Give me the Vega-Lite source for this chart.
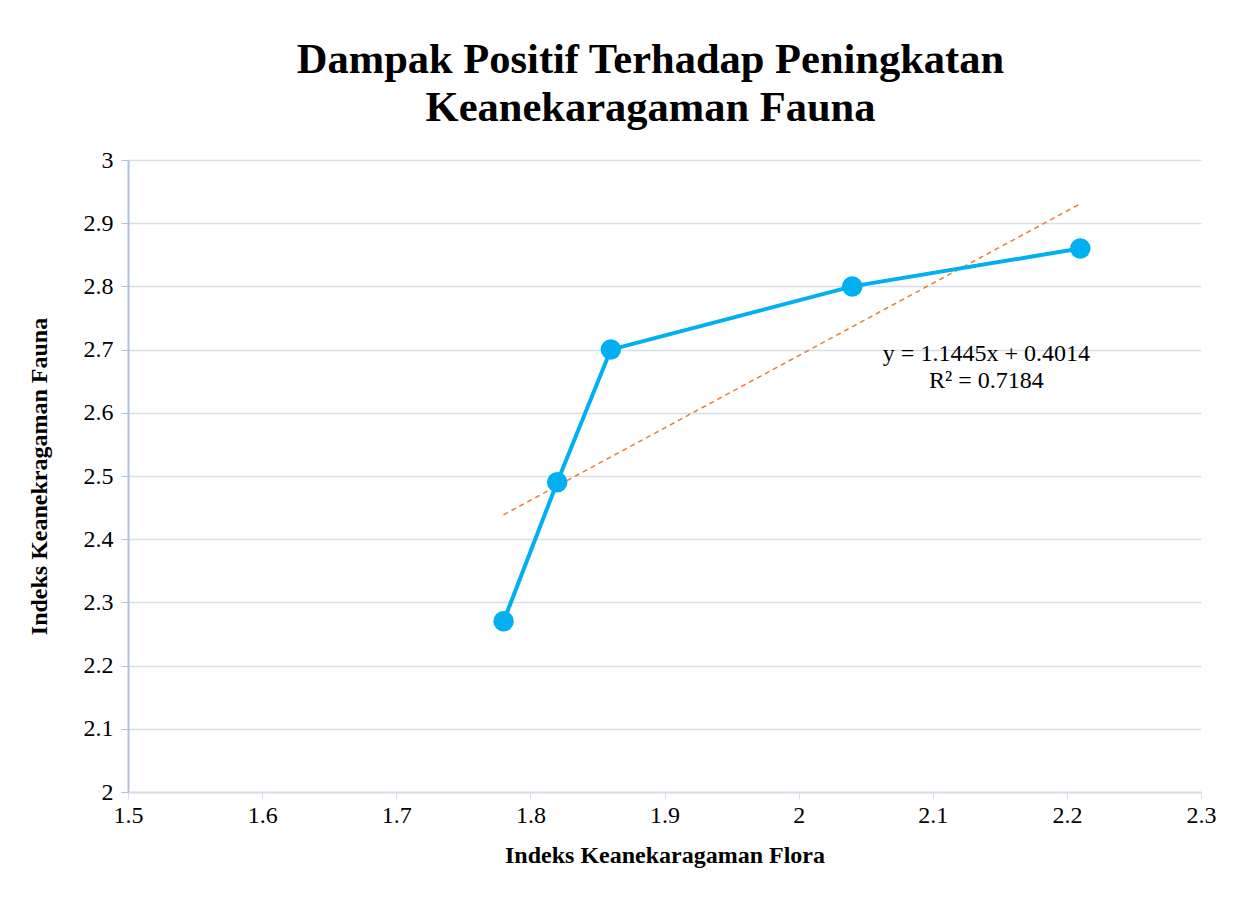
{
  "$schema": "https://vega.github.io/schema/vega-lite/v6.json",
  "autosize": "none",
  "width": 1073,
  "height": 632,
  "padding": {"left": 128, "top": 160, "right": 45, "bottom": 107},
  "background": "white",
  "config": {
    "font": "Liberation Serif",
    "view": {"stroke": null}
  },
  "title": {
    "text": ["Dampak Positif Terhadap Peningkatan", "Keanekaragaman Fauna"],
    "fontSize": 42.5,
    "fontWeight": "bold",
    "font": "Liberation Serif",
    "color": "#000000",
    "lineHeight": 48,
    "anchor": "middle",
    "offset": 19,
    "dx": -14
  },
  "datasets": {
    "obs": [
      {"flora": 1.78, "fauna": 2.27},
      {"flora": 1.82, "fauna": 2.49},
      {"flora": 1.86, "fauna": 2.70},
      {"flora": 2.04, "fauna": 2.80},
      {"flora": 2.21, "fauna": 2.86}
    ],
    "trend": [
      {"flora": 1.78, "fauna": 2.4386},
      {"flora": 2.21, "fauna": 2.9307}
    ],
    "notes": [
      {"flora": 2.14, "fauna": 2.693, "label": "y = 1.1445x + 0.4014"},
      {"flora": 2.14, "fauna": 2.650, "label": "R² = 0.7184"}
    ]
  },
  "encoding": {
    "x": {
      "field": "flora",
      "type": "quantitative",
      "scale": {"domain": [1.5, 2.3], "nice": false, "zero": false},
      "axis": {
        "title": "Indeks Keanekaragaman Flora",
        "titleFont": "Liberation Serif",
        "titleFontSize": 24,
        "titleFontWeight": "bold",
        "titleColor": "#000000",
        "titlePadding": 16,
        "values": [1.5, 1.6, 1.7, 1.8, 1.9, 2, 2.1, 2.2, 2.3],
        "format": "~g",
        "labelFont": "Liberation Serif",
        "labelFontSize": 24,
        "labelColor": "#000000",
        "labelPadding": 4,
        "labelFlush": false,
        "tickColor": "#d9dde8",
        "tickSize": 7,
        "domainColor": "#d9dde8",
        "domainWidth": 2,
        "grid": false
      }
    },
    "y": {
      "field": "fauna",
      "type": "quantitative",
      "scale": {"domain": [2, 3], "nice": false, "zero": false},
      "axis": {
        "title": "Indeks Keanekragaman Fauna",
        "titleFont": "Liberation Serif",
        "titleFontSize": 24,
        "titleFontWeight": "bold",
        "titleColor": "#000000",
        "titlePadding": 32,
        "values": [2, 2.1, 2.2, 2.3, 2.4, 2.5, 2.6, 2.7, 2.8, 2.9, 3],
        "format": "~g",
        "labelFont": "Liberation Serif",
        "labelFontSize": 24,
        "labelColor": "#000000",
        "labelPadding": 8,
        "labelFlush": false,
        "tickColor": "#b4c0d8",
        "tickSize": 7,
        "domainColor": "#b4c0d8",
        "domainWidth": 2,
        "grid": true,
        "gridColor": "#d9dde8",
        "gridWidth": 1.5
      }
    }
  },
  "layer": [
    {
      "data": {"name": "trend"},
      "mark": {"type": "line", "color": "#ed7d31", "strokeWidth": 1.5, "strokeDash": [5, 4]}
    },
    {
      "data": {"name": "obs"},
      "mark": {"type": "line", "color": "#00b0f0", "strokeWidth": 4, "point": {"filled": true, "size": 420, "color": "#00b0f0", "opacity": 1}}
    },
    {
      "data": {"name": "notes"},
      "mark": {"type": "text", "font": "Liberation Serif", "fontSize": 24, "color": "#000000", "align": "center", "baseline": "middle"},
      "encoding": {"text": {"field": "label"}}
    }
  ]
}
